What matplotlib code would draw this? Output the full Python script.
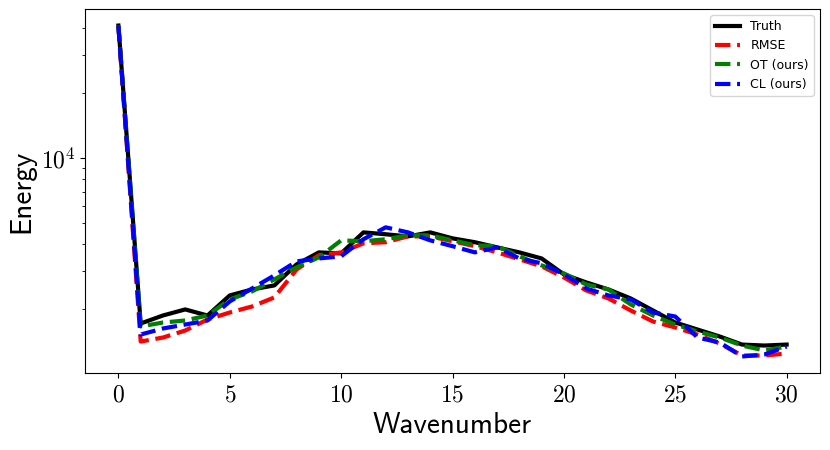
import numpy as np
import matplotlib
matplotlib.use('Agg')
import matplotlib.pyplot as plt
from matplotlib.ticker import FuncFormatter, NullFormatter, FixedLocator

plt.rcParams['mathtext.fontset'] = 'cm'

# Spectre d'énergie par nombre d'onde
wavenumber = np.arange(31)

truth = [41000, 1722, 1875, 2000, 1875, 2321, 2474, 2582, 3230, 3670,
         3630, 4540, 4450, 4350, 4540, 4260, 4090, 3870, 3670, 3440,
         2904, 2667, 2474, 2248, 1978, 1740, 1615, 1499, 1376, 1362, 1376]

rmse = [40800, 1421, 1483, 1598, 1797, 1936, 2064, 2272, 3060, 3560,
        3670, 4040, 4090, 4350, 4350, 4130, 3920, 3670, 3410, 3162,
        2812, 2448, 2248, 1978, 1759, 1650, 1531, 1391, 1225, 1225, 1251]

ot = [41000, 1668, 1740, 1778, 1875, 2224, 2422, 2753, 3130, 3480,
      4170, 4130, 4220, 4400, 4400, 4170, 3960, 3920, 3520, 3196,
      2935, 2610, 2474, 2109, 1875, 1703, 1581, 1483, 1362, 1292, 1348]

cl = [40800, 1531, 1633, 1703, 1778, 2178, 2500, 2872, 3335, 3440,
      3520, 4220, 4790, 4540, 4170, 3920, 3670, 3870, 3440, 3265,
      2904, 2500, 2321, 2224, 1936, 1855, 1483, 1406, 1212, 1238, 1348]

fig = plt.figure(figsize=(8.3, 4.5), dpi=100)
ax = fig.add_axes([0.1024, 0.171, 0.8856, 0.809])

ax.plot(wavenumber, truth, color='black', lw=3, label='Truth')
ax.plot(wavenumber, rmse, color='red', lw=3, ls='--', label='RMSE')
ax.plot(wavenumber, ot, color='green', lw=3, ls='--', label='OT (ours)')
ax.plot(wavenumber, cl, color='blue', lw=3, ls='--', label='CL (ours)')

ax.set_yscale('log')
ax.xaxis.set_major_locator(FixedLocator([0, 5, 10, 15, 20, 25, 30]))
ax.xaxis.set_major_formatter(FuncFormatter(lambda v, p: r'$%d$' % v))
ax.yaxis.set_major_formatter(
    FuncFormatter(lambda v, p: r'$10^{%d}$' % round(np.log10(v))))
ax.yaxis.set_minor_formatter(NullFormatter())
ax.tick_params(axis='both', which='major', labelsize=17)

ax.set_xlabel('Wavenumber', family='cmss10', fontsize=21, labelpad=4)
ax.set_ylabel('Energy', family='cmss10', fontsize=21, labelpad=4)

ax.legend(loc='upper right', fontsize=9)

plt.savefig('out.png', dpi=100)
